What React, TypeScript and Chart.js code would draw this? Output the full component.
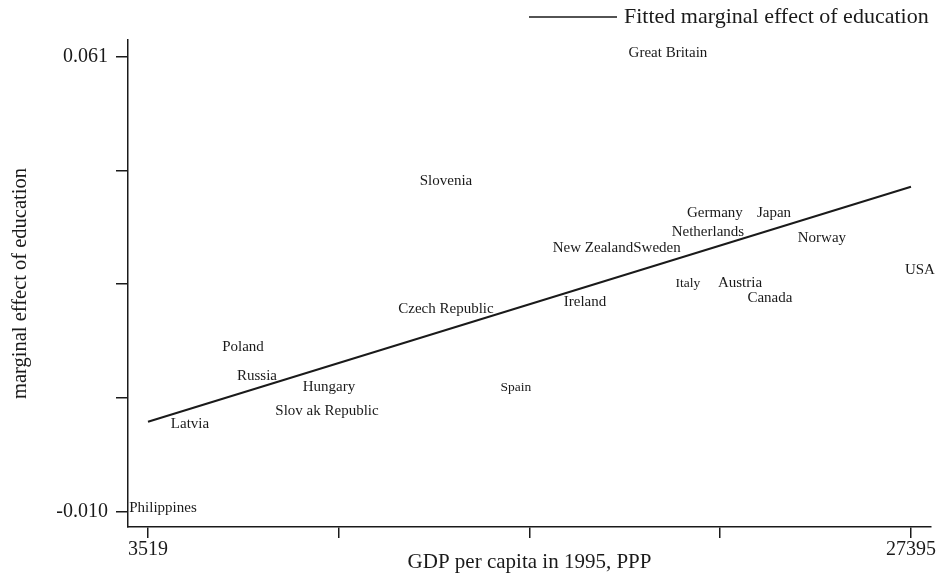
import React, { useEffect, useRef } from "react";
import { Chart, registerables } from "chart.js";

Chart.register(...registerables);

// ---- data ----
const countries = [
  "Great Britain", "Slovenia", "Germany", "Japan", "Netherlands",
  "New Zealand", "Sweden", "Norway", "USA", "Italy", "Austria",
  "Canada", "Ireland", "Czech Republic", "Poland", "Russia",
  "Hungary", "Slov ak Republic", "Latvia", "Philippines", "Spain",
];
const gdpPerCapita = [
  19790, 12843, 21260, 23107, 21041,
  17443, 19446, 24608, 27675, 20416, 22043,
  22981, 17193, 12843, 6492, 6930,
  9182, 9120, 4833, 3988, 15034,
];
const marginalEffect = [
  0.0617, 0.0418, 0.0368, 0.0368, 0.0338,
  0.0313, 0.0313, 0.0329, 0.0279, 0.0257, 0.0258,
  0.0235, 0.0229, 0.0218, 0.0159, 0.0113,
  0.0096, 0.0059, 0.0038, -0.0093, 0.0096,
];
const smallLabelCountries = ["Italy", "Spain"];

const fitGdp = [3519, 27395];
const fitEffect = [0.00404, 0.04071];

const xTickValues = [3519, 9488, 15457, 21426, 27395];
const xTickLabels = ["3519", "", "", "", "27395"];
const yTickValues = [-0.01, 0.00775, 0.0255, 0.04325, 0.061];
const yTickLabels = ["-0.010", "", "", "", "0.061"];

const legendLabel = "Fitted marginal effect of education";
const xTitle = "GDP per capita in 1995, PPP";
const yTitle = "marginal effect of education";

const FONT = "'Liberation Serif', 'Times New Roman', serif";
const INK = "#1a1a1a";

export default function App() {
  const ref = useRef<HTMLCanvasElement | null>(null);

  useEffect(() => {
    const canvas = ref.current;
    if (!canvas) return;

    const labelPlugin = {
      id: "countryLabels",
      afterDatasetsDraw(chart: any) {
        const ctx = chart.ctx;
        const meta = chart.getDatasetMeta(0);
        ctx.save();
        ctx.fillStyle = INK;
        ctx.textAlign = "center";
        ctx.textBaseline = "middle";
        meta.data.forEach((pt: any, i: number) => {
          const name = countries[i];
          const size = smallLabelCountries.includes(name) ? 13.5 : 15;
          ctx.font = `${size}px ${FONT}`;
          ctx.fillText(name, pt.x, pt.y + 1);
        });
        ctx.restore();
      },
      afterDraw(chart: any) {
        const ctx = chart.ctx;
        ctx.save();
        ctx.strokeStyle = INK;
        ctx.lineWidth = 1.5;
        ctx.beginPath();
        ctx.moveTo(529, 17);
        ctx.lineTo(617, 17);
        ctx.stroke();
        ctx.fillStyle = INK;
        ctx.font = `22px ${FONT}`;
        ctx.textAlign = "left";
        ctx.textBaseline = "middle";
        ctx.fillText(legendLabel, 624, 17);
        ctx.restore();
      },
    };

    const chart = new Chart(canvas, {
      type: "scatter",
      data: {
        datasets: [
          {
            label: "countries",
            data: gdpPerCapita.map((x, i) => ({ x, y: marginalEffect[i] })),
            pointRadius: 0,
            showLine: false,
          },
          {
            label: legendLabel,
            data: fitGdp.map((x, i) => ({ x, y: fitEffect[i] })),
            showLine: true,
            borderColor: INK,
            borderWidth: 2,
            pointRadius: 0,
          },
        ],
      },
      options: {
        responsive: false,
        animation: false,
        events: [],
        layout: { padding: { left: 0, top: 40, right: 11, bottom: 0 } },
        plugins: {
          legend: { display: false },
          tooltip: { enabled: false },
        },
        scales: {
          x: {
            type: "linear",
            min: 2893,
            max: 28021,
            afterBuildTicks: (s: any) => {
              s.ticks = xTickValues.map((v) => ({ value: v }));
            },
            afterFit: (s: any) => {
              s.height = 56;
            },
            ticks: {
              autoSkip: false,
              maxRotation: 0,
              padding: 0,
              color: INK,
              font: { family: FONT, size: 20 },
              callback: (_v: any, i: number) => xTickLabels[i],
            },
            grid: {
              drawOnChartArea: false,
              drawTicks: true,
              tickLength: 11,
              color: INK,
              lineWidth: 1.5,
            },
            border: { display: true, color: INK, width: 1.5 },
            title: {
              display: true,
              text: xTitle,
              color: INK,
              font: { family: FONT, size: 21 },
              padding: { top: 0, bottom: 8 },
            },
          },
          y: {
            type: "linear",
            min: -0.012387,
            max: 0.063606,
            afterBuildTicks: (s: any) => {
              s.ticks = yTickValues.map((v) => ({ value: v }));
            },
            afterFit: (s: any) => {
              s.width = 128;
            },
            ticks: {
              autoSkip: false,
              padding: 8,
              color: INK,
              font: { family: FONT, size: 20 },
              callback: (_v: any, i: number) => yTickLabels[i],
            },
            grid: {
              drawOnChartArea: false,
              drawTicks: true,
              tickLength: 12,
              color: INK,
              lineWidth: 1.5,
            },
            border: { display: true, color: INK, width: 1.5 },
            title: {
              display: true,
              text: yTitle,
              color: INK,
              font: { family: FONT, size: 20.5 },
              padding: { top: 8, bottom: 0 },
            },
          },
        },
      },
      plugins: [labelPlugin],
    } as any);

    return () => chart.destroy();
  }, []);

  return (
    <div style={{ position: "absolute", left: 0, top: 0, width: 942, height: 583, background: "#fff" }}>
      <canvas ref={ref} width={942} height={583} style={{ display: "block" }} />
    </div>
  );
}
